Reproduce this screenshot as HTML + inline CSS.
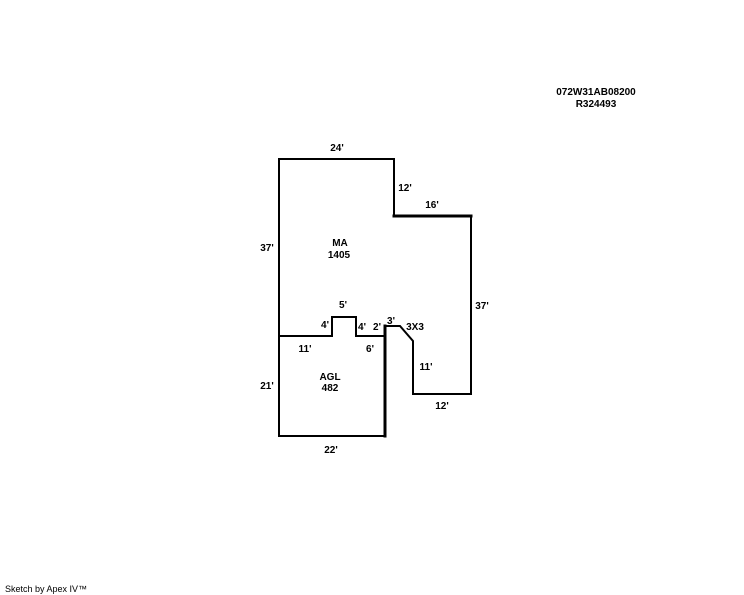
<!DOCTYPE html>
<html><head><meta charset="utf-8"><style>
html,body{margin:0;padding:0;background:#fff;width:744px;height:595px;overflow:hidden}
svg text{font-family:"Liberation Sans",Arial,sans-serif;font-weight:bold;font-size:10px;fill:#000}
</style></head><body>
<svg width="744" height="595" viewBox="0 0 744 595" xmlns="http://www.w3.org/2000/svg">
<g fill="none" stroke="#000" stroke-width="2" stroke-linecap="square">
<polyline points="279,336 279,159 394,159 394,216 471,216 471,394 413,394 413,341 400,326 385,326 385,336 356,336 356,317 332,317 332,336 279,336"/>
<polyline points="279,336 279,436 385,436 385,326" />
<line x1="385" y1="326" x2="385" y2="436" stroke-width="3"/>
<line x1="394" y1="216" x2="471" y2="216" stroke-width="3"/>
</g>
<text x="596" y="95" text-anchor="middle">072W31AB08200</text>
<text x="596" y="107" text-anchor="middle">R324493</text>
<text x="337" y="151" text-anchor="middle">24'</text>
<text x="405" y="191" text-anchor="middle">12'</text>
<text x="432" y="208" text-anchor="middle">16'</text>
<text x="267" y="251" text-anchor="middle">37'</text>
<text x="340" y="246" text-anchor="middle">MA</text>
<text x="339" y="258" text-anchor="middle">1405</text>
<text x="482" y="309" text-anchor="middle">37'</text>
<text x="343" y="308" text-anchor="middle">5'</text>
<text x="325" y="328" text-anchor="middle">4'</text>
<text x="362" y="330" text-anchor="middle">4'</text>
<text x="377" y="330" text-anchor="middle">2'</text>
<text x="391" y="324" text-anchor="middle">3'</text>
<text x="415" y="330" text-anchor="middle">3X3</text>
<text x="305" y="352" text-anchor="middle">11'</text>
<text x="370" y="352" text-anchor="middle">6'</text>
<text x="426" y="370" text-anchor="middle">11'</text>
<text x="330" y="380" text-anchor="middle">AGL</text>
<text x="330" y="391" text-anchor="middle">482</text>
<text x="267" y="389" text-anchor="middle">21'</text>
<text x="442" y="409" text-anchor="middle">12'</text>
<text x="331" y="453" text-anchor="middle">22'</text>
<text x="5" y="592" style="font-weight:normal;font-size:9px">Sketch by Apex IV™</text>
</svg>
</body></html>
